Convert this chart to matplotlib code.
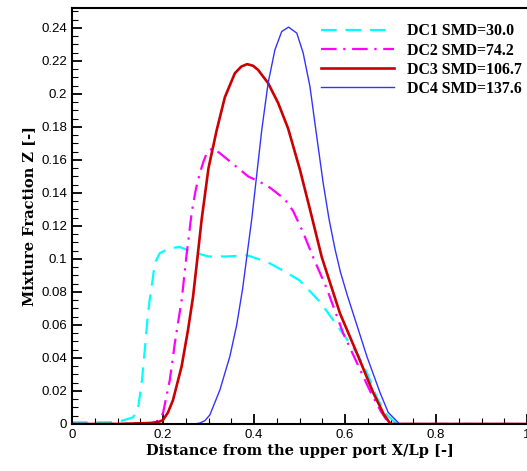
import numpy as np
import matplotlib.pyplot as plt
from matplotlib.ticker import MultipleLocator

# curves (X/Lp, Z)
x_dc1 = [0.0, 0.05, 0.083, 0.11, 0.134, 0.145, 0.154, 0.16, 0.166, 0.171, 0.175, 0.182, 0.193, 0.215, 0.237, 0.266, 0.3,
         0.34, 0.385, 0.43, 0.47, 0.50, 0.545, 0.574, 0.60, 0.626, 0.65, 0.67, 0.69, 0.714, 0.75, 1.0]
z_dc1 = [0.001, 0.001, 0.001, 0.002, 0.004, 0.009, 0.027, 0.045, 0.064, 0.076, 0.083, 0.0975, 0.1035, 0.1065, 0.1072, 0.104, 0.1015,
         0.1015, 0.1022, 0.098, 0.092, 0.087, 0.074, 0.063, 0.053, 0.043, 0.03, 0.016, 0.006, 0.0, 0.0, 0.0]

x_dc2 = [0.0, 0.1, 0.17, 0.19, 0.2, 0.215, 0.226, 0.241, 0.252, 0.263, 0.272, 0.281, 0.289, 0.296, 0.303, 0.310, 0.325, 0.343,
         0.365, 0.387, 0.41, 0.431, 0.45, 0.468, 0.486, 0.508, 0.53, 0.56, 0.596, 0.633, 0.655, 0.677, 0.69, 0.705, 0.75, 1.0]
z_dc2 = [0.0, 0.0, 0.0005, 0.002, 0.0065, 0.0267, 0.049, 0.075, 0.103, 0.128, 0.142, 0.152, 0.159, 0.164, 0.166, 0.167, 0.164, 0.160,
         0.155, 0.150, 0.147, 0.144, 0.140, 0.136, 0.129, 0.116, 0.101, 0.082, 0.055, 0.033, 0.02, 0.0085, 0.003, 0.0, 0.0, 0.0]

x_dc3 = [0.0, 0.1, 0.171, 0.19, 0.2, 0.211, 0.222, 0.241, 0.255, 0.266, 0.275, 0.285, 0.30, 0.318, 0.336, 0.358, 0.372, 0.385,
         0.398, 0.409, 0.431, 0.453, 0.475, 0.501, 0.523, 0.549, 0.589, 0.626, 0.662, 0.685, 0.70, 0.75, 1.0]
z_dc3 = [0.0, 0.0, 0.0006, 0.0012, 0.0024, 0.007, 0.0145, 0.035, 0.057, 0.077, 0.099, 0.124, 0.155, 0.178, 0.198, 0.2125, 0.2165, 0.218,
         0.217, 0.2145, 0.2065, 0.1945, 0.179, 0.154, 0.130, 0.101, 0.067, 0.043, 0.019, 0.006, 0.0, 0.0, 0.0]

x_dc4 = [0.0, 0.2, 0.27, 0.281, 0.292, 0.303, 0.325, 0.347, 0.362, 0.375, 0.385, 0.395, 0.417, 0.431, 0.446, 0.461, 0.476,
         0.494, 0.508, 0.523, 0.534, 0.552, 0.565, 0.578, 0.59, 0.605, 0.626, 0.648, 0.677, 0.695, 0.72, 0.75, 1.0]
z_dc4 = [0.0, 0.0, 0.0, 0.0006, 0.002, 0.0055, 0.0206, 0.041, 0.06, 0.082, 0.103, 0.124, 0.178, 0.2065, 0.2267, 0.2378, 0.2404,
         0.2368, 0.2248, 0.2044, 0.182, 0.146, 0.124, 0.106, 0.092, 0.078, 0.06, 0.041, 0.019, 0.007, 0.0, 0.0, 0.0]

labels = ['DC1 SMD=30.0', 'DC2 SMD=74.2', 'DC3 SMD=106.7', 'DC4 SMD=137.6']

fig = plt.figure(figsize=(5.27, 4.71), dpi=100)
ax = fig.add_axes([72 / 527, 47 / 471, 455 / 527, 416 / 471])

ax.plot(x_dc1, z_dc1, color='#00ffff', lw=1.6, dashes=(7, 4), label=labels[0])
ax.plot(x_dc2, z_dc2, color='#ff00ff', lw=1.6, dashes=(7, 3, 1, 3), label=labels[1])
ax.plot(x_dc3, z_dc3, color='#cc0000', lw=1.9, label=labels[2])
ax.plot(x_dc4, z_dc4, color='#3333ff', lw=1.0, label=labels[3])

ax.set_xlim(0, 1)
ax.set_ylim(0, 0.252)
ax.xaxis.set_major_locator(MultipleLocator(0.2))
ax.xaxis.set_minor_locator(MultipleLocator(0.05))
ax.yaxis.set_major_locator(MultipleLocator(0.02))
ax.yaxis.set_minor_locator(MultipleLocator(0.005))
ax.xaxis.set_major_formatter(plt.FuncFormatter(lambda v, p: '%g' % round(v, 3)))
ax.yaxis.set_major_formatter(plt.FuncFormatter(lambda v, p: '%g' % round(v, 3)))
ax.tick_params(which='both', direction='in', top=False, right=False, labelsize=9.5)
ax.tick_params(which='major', length=7, width=1.3)
ax.tick_params(which='minor', length=4, width=0.8)
for lab in ax.get_xticklabels() + ax.get_yticklabels():
    lab.set_family('Liberation Sans')
for s in ax.spines.values():
    s.set_linewidth(1.5)
ax.spines['right'].set_visible(False)

ax.set_xlabel('Distance from the upper port X/Lp [-]', family='DejaVu Serif', weight='bold', fontsize=10.5, labelpad=2)
ax.set_ylabel('Mixture Fraction Z [-]', family='DejaVu Serif', weight='bold', fontsize=10.5, labelpad=4)

ax.legend(loc='upper left', frameon=False, prop={'family': 'Liberation Serif', 'weight': 'bold', 'size': 11.4},
          handlelength=4.6, handletextpad=0.8, labelspacing=0.2, borderaxespad=0, borderpad=0,
          bbox_to_anchor=(0.548, 0.963))

fig.savefig('out.png', dpi=100)
